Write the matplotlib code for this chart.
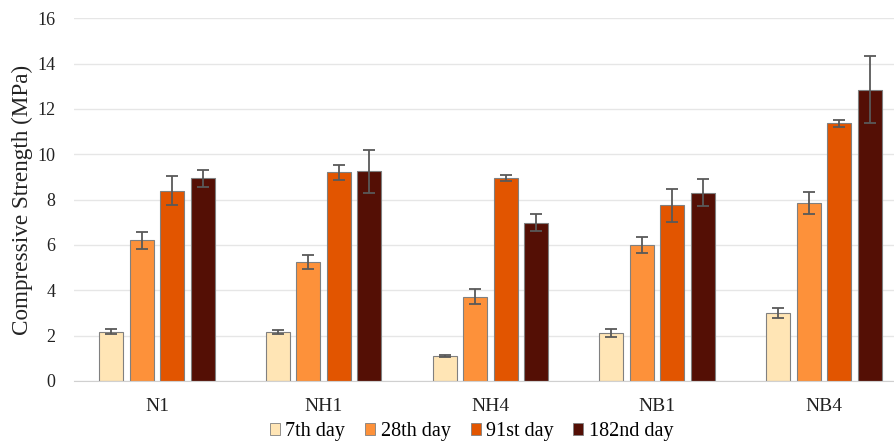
import numpy as np
import matplotlib.pyplot as plt
from matplotlib.patches import Patch

plt.rcParams['font.family'] = ['Liberation Serif', 'DejaVu Serif']

mixes = ['N1', 'NH1', 'NH4', 'NB1', 'NB4']
ages = ['7th day', '28th day', '91st day', '182nd day']
strength = [
    [2.17, 2.16, 1.09, 2.10, 3.00],    # 7th day
    [6.20, 5.24, 3.72, 5.98, 7.84],    # 28th day
    [8.40, 9.20, 8.95, 7.74, 11.36],   # 91st day
    [8.93, 9.24, 6.98, 8.31, 12.84],   # 182nd day
]
strength_err = [
    [0.12, 0.10, 0.05, 0.18, 0.23],
    [0.37, 0.32, 0.32, 0.35, 0.49],
    [0.64, 0.33, 0.12, 0.74, 0.15],
    [0.39, 0.93, 0.38, 0.60, 1.48],
]
colors = ['#FFE5B5', '#FD913A', '#E25500', '#540F05']

fig = plt.figure(figsize=(8.95, 4.43), dpi=100)
# plot area runs a little past the right edge of the figure
ax = fig.add_axes([0.0822, 0.14, 0.9316, 0.819])

x = np.arange(len(mixes))
width = 0.144
step = 0.183
for i, age in enumerate(ages):
    pos = x + (i - 1.5) * step
    ax.bar(pos, strength[i], width, color=colors[i], edgecolor='#808080',
           linewidth=0.8, zorder=2, label=age)
    ax.errorbar(pos, strength[i], yerr=strength_err[i], fmt='none',
                ecolor='#595959', elinewidth=1.3, capsize=4.5, capthick=1.3,
                zorder=3)

ax.set_xlim(-0.5, len(mixes) - 0.5)
ax.set_ylim(0, 16)
ax.set_yticks(np.arange(0, 17, 2))
ax.set_xticks(x)
ax.set_xticklabels(mixes, fontsize=14)
ax.yaxis.grid(True, color='#e6e6e6', linewidth=1, zorder=0)
ax.set_axisbelow(True)
for s in ['top', 'right', 'left']:
    ax.spines[s].set_visible(False)
ax.spines['bottom'].set_color('#d0d0d0')
ax.tick_params(axis='both', length=0, colors='#222222')
ax.tick_params(axis='y', labelsize=13, pad=13)
ax.tick_params(axis='x', pad=12)
ax.set_ylabel('Compressive Strength (MPa)', fontsize=16.7, color='#222222',
              labelpad=3)

handles = [Patch(facecolor=c, edgecolor='#808080', linewidth=0.6) for c in colors]
fig.legend(handles, ages, loc='center', bbox_to_anchor=(0.527, 0.026),
           ncol=4, frameon=False, fontsize=14.5, handlelength=0.5,
           handleheight=0.5, handletextpad=0.25, columnspacing=1.0,
           borderpad=0)

fig.savefig('out.png', dpi=100)
